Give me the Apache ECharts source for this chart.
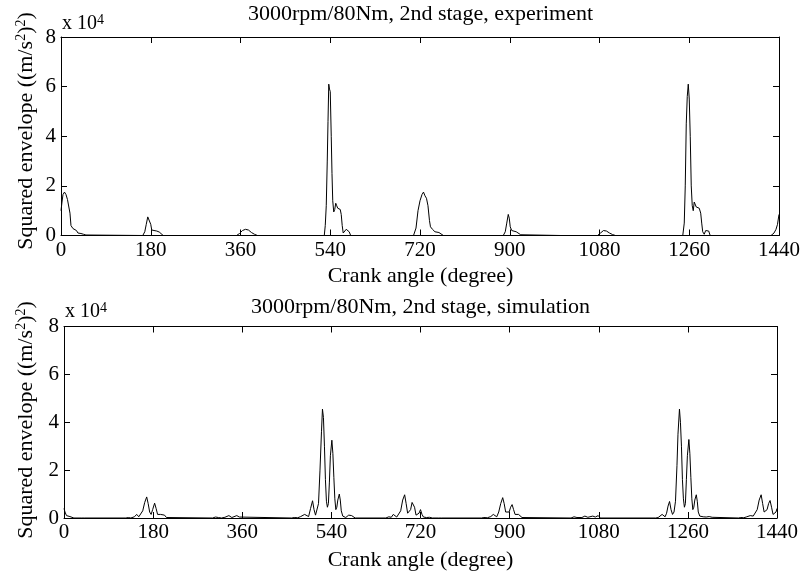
<!DOCTYPE html>
<html><head><meta charset="utf-8">
<script src="https://cdn.jsdelivr.net/npm/echarts@6/dist/echarts.min.js"></script>
<style>html,body{margin:0;padding:0;background:#fff}#c{width:803px;height:575px}</style>
</head><body><div id="c"></div>
<script>
// ---- data (values in units of 1e4 (m/s^2)^2) ----
const xTickValues = [0, 180, 360, 540, 720, 900, 1080, 1260, 1440];
const yTickValues = [0, 2, 4, 6, 8];
const titles = ['3000rpm/80Nm, 2nd stage, experiment', '3000rpm/80Nm, 2nd stage, simulation'];
const xAxisTitle = 'Crank angle (degree)';

const expAngle = [0,2,4,7,10,13,16,18,20,24,28,31,34,37,40,45,50,53,
  164,168,171,174,176,178,180,182,186,192,197,201,205,
  280,284,288,
  352,358,364,370,376,382,388,394,
  528,530,532,534,535.5,537,538.5,540,542,543.5,545,547,549,551,553,555,558,560,562,564,566,569,572,575,578,581,
  707,712,716,720,724,727,730,733,736,739,741,745,750,754,758,762,767,
  887,891,894,897,899,901,904,908,913,917,922,926,
  1002,1006,1010,
  1076,1082,1088,1094,1100,1106,1112,
  1247,1250,1252,1254,1256,1258,1260,1262,1264,1266,1268,1270,1272,1274,1277,1280,1283,1285,1287,1290,1293,1296,1299,1302,
  1424,1430,1434,1437,1440];
const expValue = [1.0,1.35,1.65,1.75,1.65,1.45,1.38,0.9,0.4,0.28,0.22,0.2,0.1,0.14,0.08,0.05,0.02,0,
  0,0.15,0.45,0.75,0.83,0.75,0.45,0.22,0.2,0.18,0.14,0.06,0,
  0,0.05,0,
  0,0.08,0.2,0.25,0.22,0.12,0.05,0,
  0,0.4,1.2,3.0,4.6,6.1,5.9,5.8,4.0,2.5,1.4,0.95,1.05,1.3,1.2,1.1,1.1,1.05,0.85,0.4,0.1,0.05,0.25,0.3,0.15,0,
  0,0.3,1.0,1.4,1.65,1.75,1.6,1.5,1.2,0.6,0.35,0.25,0.15,0.1,0.12,0.05,0,
  0,0.15,0.5,0.85,0.7,0.35,0.2,0.2,0.15,0.1,0.03,0,
  0,0.04,0,
  0,0.1,0.2,0.18,0.1,0.04,0,
  0,0.5,2.0,4.5,5.6,6.1,5.5,4.0,2.0,1.2,1.0,1.35,1.3,1.15,1.1,1.1,0.9,0.5,0.15,0.05,0.2,0.25,0.18,0,
  0,0.1,0.25,0.45,0.85];

const simAngle = [0,2,5,8,12,16,20,36,39,42,
  125,130,135,142,147,151,155,159,163,167,170,173,176,179,183,186,189,192,195,199,203,207,210,
  300,306,312,318,325,333,339,343,349,354,358,
  460,465,472,478,482,486,490,494,498,502,505,508,511,514,517,520,522,524,526,528,530,532,534,536,538,541,543,545,547,549,551,553,556,558,560,563,566,569,572,575,578,581,584,588,
  650,656,661,665,668,672,676,680,684,688,691,694,697,700,703,705,708,711,714,717,720,723,726,732,738,744,756,759,762,
  843,848,855,862,867,871,874,878,882,886,889,892,895,899,902,905,908,911,914,918,921,925,928,
  1024,1030,1036,1040,1046,1052,1058,1062,1068,1073,1079,1083,
  1195,1200,1204,1208,1211,1214,1217,1220,1223,1226,1229,1232,1235,1238,1240,1243,1245,1247,1249,1251,1253,1255,1257,1259,1262,1264,1266,1268,1270,1272,1274,1277,1279,1281,1284,1288,1291,1294,1297,1300,1303,1306,1309,1313,
  1362,1367,1373,1379,1383,1386,1389,1392,1396,1400,1404,1408,1411,1414,1417,1420,1423,1426,1429,1432,1435,1438,1440];
const simValue = [0.4,0.25,0.1,0.05,0.06,0.02,0,0,0.03,0,
  0,0.02,0,0.05,0.15,0.05,0.1,0.3,0.65,0.88,0.6,0.25,0.15,0.35,0.62,0.4,0.15,0.12,0.15,0.2,0.12,0.02,0,
  0,0.04,0.02,0,0.03,0.1,0.02,0.03,0.1,0.04,0,
  0,0.02,0.01,0.06,0.03,0.15,0.08,0.06,0.4,0.72,0.35,0.12,0.2,0.6,2.0,3.6,4.55,4.2,3.0,1.6,0.7,0.45,0.6,1.5,2.6,3.25,2.7,1.7,0.8,0.35,0.45,0.75,1.0,0.75,0.3,0.08,0.03,0.02,0.08,0.12,0.05,0.1,0.08,0,
  0,0.05,0.03,0.15,0.1,0.04,0.05,0.3,0.75,0.97,0.6,0.2,0.15,0.35,0.65,0.73,0.45,0.12,0.08,0.2,0.35,0.15,0.04,0.02,0.03,0,0,0.03,0,
  0,0.02,0.01,0.06,0.15,0.08,0.05,0.25,0.6,0.85,0.6,0.25,0.18,0.25,0.45,0.56,0.35,0.15,0.12,0.15,0.1,0.02,0,
  0,0.05,0.02,0,0.02,0.08,0.03,0.01,0.08,0.04,0.1,0,
  0,0.02,0.05,0.15,0.08,0.05,0.2,0.5,0.69,0.35,0.15,0.25,0.7,2.2,3.5,4.55,4.0,3.0,1.6,0.8,0.45,0.6,1.6,2.6,3.28,2.7,1.7,0.8,0.35,0.45,0.75,0.97,0.7,0.25,0.08,0.02,0.05,0.1,0.04,0.02,0.06,0.1,0.03,0,
  0,0.02,0.01,0.05,0.03,0.1,0.18,0.08,0.1,0.35,0.75,0.97,0.6,0.25,0.2,0.35,0.6,0.73,0.45,0.15,0.1,0.25,0.4];

// ---- layout ----
const FONT = '"Liberation Serif", "Times New Roman", serif';
const grids = [
  { left: 61, top: 37, width: 719, height: 198.5 },
  { left: 64, top: 326.5, width: 713, height: 191.5 }
];
const black = '#000';

function xAxes(gi) {
  const base = {
    type: 'value', gridIndex: gi, min: xTickValues[0], max: xTickValues[xTickValues.length - 1],
    interval: xTickValues[1] - xTickValues[0],
    axisLine: { show: true, onZero: false, lineStyle: { color: black, width: 1 } },
    axisTick: { show: true, inside: true, length: 6, lineStyle: { color: black, width: 1 } },
    splitLine: { show: false }
  };
  return [
    Object.assign({}, base, { position: 'bottom',
      axisLabel: { color: black, fontFamily: FONT, fontSize: 21, margin: 4, showMinLabel: true, showMaxLabel: true,
        formatter: v => String(v) } }),
    Object.assign({}, base, { position: 'top', axisLabel: { show: false } })
  ];
}
function yAxes(gi) {
  const base = {
    type: 'value', gridIndex: gi, min: yTickValues[0], max: yTickValues[yTickValues.length - 1],
    interval: yTickValues[1] - yTickValues[0],
    axisLine: { show: true, onZero: false, lineStyle: { color: black, width: 1 } },
    axisTick: { show: true, inside: true, length: 6, lineStyle: { color: black, width: 1 } },
    splitLine: { show: false }
  };
  return [
    Object.assign({}, base, { position: 'left',
      axisLabel: { color: black, fontFamily: FONT, fontSize: 21, margin: 5, showMinLabel: true, showMaxLabel: true,
        formatter: v => String(v) } }),
    Object.assign({}, base, { position: 'right', axisLabel: { show: false } })
  ];
}

function zip(a, b) { return a.map((v, i) => [v, b[i]]); }

const yLabelText = '{n|Squared envelope ((m/s}{s|2}{n|)}{s|2}{n|)}';
const yLabelRich = {
  n: { fontFamily: FONT, fontSize: 22, fill: black, color: black, lineHeight: 24 },
  s: { fontFamily: FONT, fontSize: 14, fill: black, color: black, verticalAlign: 'top', lineHeight: 14 }
};
const expRich = {
  a: { fontFamily: FONT, fontSize: 20, color: black, lineHeight: 22 },
  b: { fontFamily: FONT, fontSize: 14, color: black, verticalAlign: 'top', lineHeight: 14 }
};

function textEl(txt, x, y, size, align) {
  return { type: 'text', x: x, y: y, silent: true,
    style: { text: txt, fontFamily: FONT, fontSize: size, fill: black, align: align || 'center', verticalAlign: 'middle' } };
}

const graphics = [
  textEl(titles[0], 420.5, 14, 22),
  textEl(titles[1], 420.5, 307.5, 22),
  textEl(xAxisTitle, 420.5, 276, 22),
  textEl(xAxisTitle, 420.5, 560, 22),
  { type: 'text', x: 26, y: 131, rotation: Math.PI / 2, silent: true,
    style: { text: yLabelText, rich: yLabelRich, fill: black, align: 'center', verticalAlign: 'middle' } },
  { type: 'text', x: 26, y: 420, rotation: Math.PI / 2, silent: true,
    style: { text: yLabelText, rich: yLabelRich, fill: black, align: 'center', verticalAlign: 'middle' } },
  { type: 'text', x: 62, y: 24, silent: true,
    style: { text: '{a|x 10}{b|4}', rich: expRich, fill: black, align: 'left', verticalAlign: 'middle' } },
  { type: 'text', x: 65, y: 312, silent: true,
    style: { text: '{a|x 10}{b|4}', rich: expRich, fill: black, align: 'left', verticalAlign: 'middle' } }
];

const chart = echarts.init(document.getElementById('c'), null, { renderer: 'canvas' });
chart.setOption({
  animation: false,
  backgroundColor: '#fff',
  grid: grids,
  xAxis: xAxes(0).concat(xAxes(1)),
  yAxis: yAxes(0).concat(yAxes(1)),
  series: [
    { type: 'line', xAxisIndex: 0, yAxisIndex: 0, data: zip(expAngle, expValue),
      showSymbol: false, symbol: 'none', lineStyle: { color: black, width: 1 }, z: 1 },
    { type: 'line', xAxisIndex: 2, yAxisIndex: 2, data: zip(simAngle, simValue),
      showSymbol: false, symbol: 'none', lineStyle: { color: black, width: 1 }, z: 1 }
  ],
  graphic: graphics
});
</script>
</body></html>
